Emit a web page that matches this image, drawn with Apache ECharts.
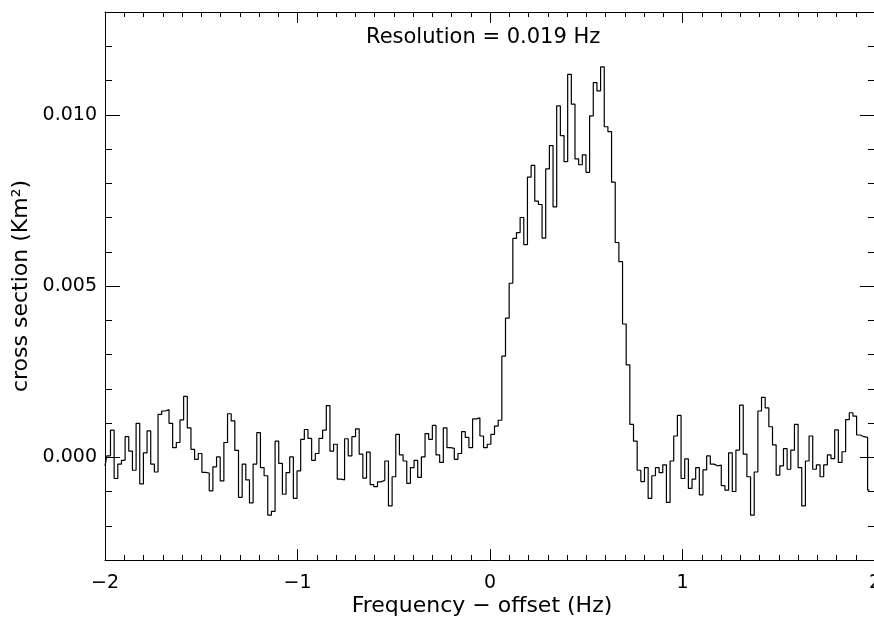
<!DOCTYPE html>
<html><head><meta charset="utf-8">
<script src="https://cdn.jsdelivr.net/npm/echarts@6/dist/echarts.min.js"></script>
<style>html,body{margin:0;padding:0;background:#fff}#c{width:874px;height:617px}</style>
</head><body><div id="c"></div>
<script>
// Spectral resolution (bin width) and start of the frequency grid
const RESOLUTION_HZ = 0.019;
const X_START = -2;

// Axis ticks
const X_TICKS = [-2, -1, 0, 1, 2];
const Y_MAJOR = [0, 5, 10];                        // units of 1e-3 Km^2
const Y_MINOR = [-2, -1, 1, 2, 3, 4, 6, 7, 8, 9, 11, 12];

// Cross section values, units of 1e-3 Km^2, in frequency order
const noiseA = [-0.25, 0.04, 0.79, -0.62, -0.20, -0.09, 0.60, 0.18, -0.38, 0.99, -0.78, 0.13, 0.77, -0.20, -0.43, 1.25, 1.35, 1.39, 0.99, 0.28, 0.43, 1.09, 1.78, 0.86, 0.23, -0.06, 0.11, -0.44, -0.46, -0.98, -0.28, 0.01, -0.69, 0.43, 1.27];
const noiseB = [1.06, 0.20, -1.17, -0.20, -0.66, -1.33, -0.20, 0.72, -0.30, -0.54, -1.69, -1.58, 0.47, -0.18, -1.08, -0.45, 0.01, -1.20, -0.40, 0.52, 0.81, 0.55, -0.09, 0.11, 0.55, 0.79, 1.51, 0.18, 0.38, -0.64, -0.66, 0.54, 0.04, 0.60];
const noiseC = [0.83, 0.09, -0.61, 0.15, -0.80, -0.86, -0.72, -0.67, -0.11, -1.42, -0.57, 0.67, 0.07, -0.11, -0.76, -0.30, -0.09, -0.59, 0.01, 0.69, 0.52, 0.93, 0.07, -0.15, 0.86, 0.28, 0.26, -0.06, 0.11, 0.75, 0.58, 0.28, 1.12];
const peakRise = [1.15, 0.62, 0.28, 0.38, 0.67, 0.91, 1.08, 2.95, 4.06, 5.08, 6.39, 6.56, 7.00, 6.21, 8.18, 8.52, 7.48, 7.38, 6.40, 8.42, 9.10, 7.31, 10.26, 9.39, 8.63];
const peakFall = [11.18, 10.31, 8.71, 8.54, 8.83, 8.32, 9.97, 10.94, 10.70, 11.40, 9.65, 9.51, 8.03, 6.27, 5.71, 3.89, 2.70, 0.96, 0.47];
const noiseD = [-0.38, -0.71, -0.30, -1.20, -0.54, -0.30, -0.45, -0.22, -1.32, -0.11, 0.62, 1.22, -0.62, -0.05, -0.91, -0.64, -0.30, -1.10, -0.37, 0.04, -0.20, -0.25, -0.23, -0.83, -0.96, 0.13, -1.00, 0.21, 1.52, 0.09];
const noiseE = [-0.57, -1.69, -0.43, 1.35, 1.75, 1.44, 0.89, 0.36, -0.52, -0.25, 0.25, -0.35, 0.21, 0.96, -0.30, -1.42, -0.11, 0.62, -0.35, -0.22, -0.57, -0.22, 0.07, -0.04, 0.80, -0.15, 0.16, 1.10, 1.30, 1.20, 0.65, 0.60, 0.58, -0.96];

const values = [].concat(noiseA, noiseB, noiseC, peakRise, peakFall, noiseD, noiseE);
const seriesData = values.map((v, i) => [X_START + i * RESOLUTION_HZ, v]);

const FONT = 'DejaVu Sans';
const BLACK = '#000';
const minusFmt = v => (v < 0 ? '\u2212' + (-v) : String(v));

const xBase = (pos, showLabel) => ({
  type: 'value', position: pos, min: X_TICKS[0], max: X_TICKS[X_TICKS.length - 1], interval: 1,
  axisLine: { show: true, onZero: false, lineStyle: { color: BLACK, width: 1 } },
  axisTick: { show: true, inside: true, length: 11, lineStyle: { color: BLACK, width: 1 } },
  minorTick: { show: true, splitNumber: 10, length: 5, lineStyle: { color: BLACK, width: 1 } },
  splitLine: { show: false }, minorSplitLine: { show: false },
  axisLabel: { show: showLabel, formatter: minusFmt, fontSize: 19, color: BLACK, fontFamily: FONT, margin: 14, showMinLabel: true, showMaxLabel: true, hideOverlap: false }
});

const yBase = (pos, ticks, len, showLine, showLabel) => ({
  type: 'value', position: pos, offset: 0, min: -3, max: 13,
  axisLine: { show: showLine, onZero: false, lineStyle: { color: BLACK, width: 1 } },
  axisTick: { show: true, inside: true, length: len, customValues: ticks, lineStyle: { color: BLACK, width: 1 } },
  splitLine: { show: false },
  axisLabel: { show: showLabel, customValues: Y_MAJOR, formatter: v => (v / 1000).toFixed(3), fontSize: 19, color: BLACK, fontFamily: FONT, margin: 8 }
});

const xBottom = xBase('bottom', true);
xBottom.name = 'Frequency \u2212 offset (Hz)';
xBottom.nameLocation = 'middle';
xBottom.nameGap = 35;
xBottom.nameMoveOverlap = false;
xBottom.nameTextStyle = { fontSize: 22, color: BLACK, fontFamily: FONT, padding: [0, 16, 0, 0] };

const yLeft = yBase('left', Y_MAJOR, 15, true, true);
yLeft.name = 'cross section (Km\u00b2)';
yLeft.nameLocation = 'middle';
yLeft.nameGap = 73;
yLeft.nameMoveOverlap = false;
yLeft.nameTextStyle = { fontSize: 22, color: BLACK, fontFamily: FONT };

const chart = echarts.init(document.getElementById('c'), null, { renderer: 'canvas' });
chart.setOption({
  animation: false,
  backgroundColor: '#fff',
  title: {
    text: 'Resolution = ' + RESOLUTION_HZ + ' Hz',
    left: 366, top: 27, padding: 0,
    textStyle: { fontSize: 21, fontWeight: 'normal', color: BLACK, fontFamily: FONT }
  },
  grid: { left: 105, right: -1, top: 12, bottom: 57, containLabel: false, outerBoundsMode: 'none' },
  xAxis: [xBottom, xBase('top', false)],
  yAxis: [
    yLeft,
    yBase('right', Y_MAJOR, 15, true, false),
    yBase('left', Y_MINOR, 7, false, false),
    yBase('right', Y_MINOR, 7, false, false)
  ],
  series: [{
    type: 'line', xAxisIndex: 0, yAxisIndex: 0, data: seriesData,
    step: 'middle', symbol: 'none', showSymbol: false,
    lineStyle: { color: BLACK, width: 1.2 }
  }]
});
</script></body></html>
